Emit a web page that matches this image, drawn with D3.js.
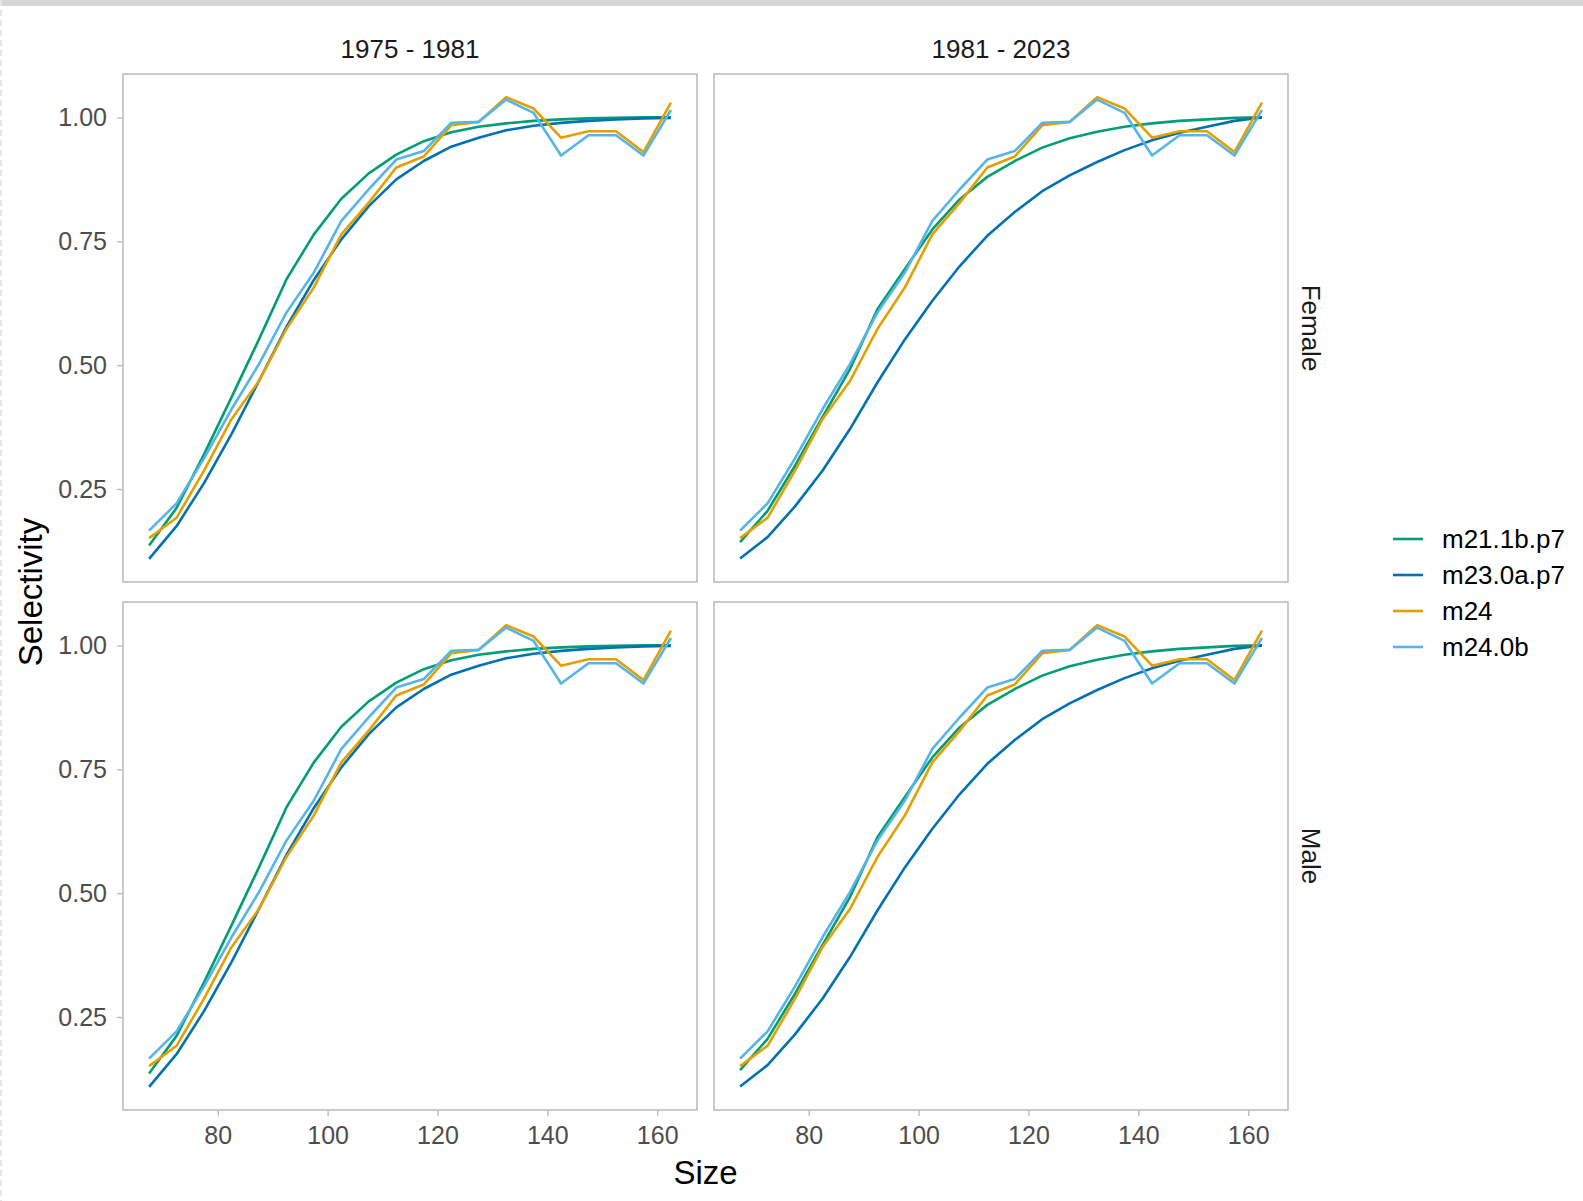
<!DOCTYPE html>
<html>
<head>
<meta charset="utf-8">
<script src="https://cdn.jsdelivr.net/npm/d3@7"></script>
<style>
  body { margin: 0; background: #fff; }
  svg { display: block; font-family: "Liberation Sans", Arial, sans-serif; }
</style>
</head>
<body>
<svg id="chart" width="1583" height="1201"></svg>
<script>
// ---------- DATA ----------
const sizes = [67.5, 72.5, 77.5, 82.5, 87.5, 92.5, 97.5, 102.5, 107.5, 112.5,
               117.5, 122.5, 127.5, 132.5, 137.5, 142.5, 147.5, 152.5, 157.5, 162.5];

const periods = ["1975 - 1981", "1981 - 2023"];
const sexes = ["Female", "Male"];
const seriesNames = ["m21.1b.p7", "m23.0a.p7", "m24", "m24.0b"];
const seriesColors = ["#009E73", "#0072B2", "#E69F00", "#56B4E9"];

// 1975 - 1981
const m21_early = [0.136, 0.212, 0.320, 0.435, 0.552, 0.673, 0.764, 0.836, 0.887, 0.925,
                   0.952, 0.970, 0.981, 0.988, 0.993, 0.996, 0.998, 0.999, 1.000, 1.000];
const m23_early = [0.109, 0.175, 0.262, 0.361, 0.468, 0.577, 0.672, 0.754, 0.821, 0.875,
                   0.912, 0.941, 0.959, 0.974, 0.983, 0.989, 0.993, 0.996, 0.998, 0.999];
// 1981 - 2023
const m21_late  = [0.143, 0.206, 0.297, 0.395, 0.492, 0.613, 0.694, 0.774, 0.835, 0.880,
                   0.912, 0.939, 0.958, 0.971, 0.981, 0.988, 0.993, 0.996, 0.999, 1.000];
const m23_late  = [0.110, 0.153, 0.215, 0.287, 0.371, 0.465, 0.552, 0.630, 0.700, 0.761,
                   0.809, 0.851, 0.883, 0.910, 0.934, 0.954, 0.969, 0.981, 0.993, 1.000];
// same in both periods
const m24       = [0.151, 0.192, 0.287, 0.391, 0.468, 0.573, 0.657, 0.764, 0.828, 0.899,
                   0.921, 0.984, 0.991, 1.041, 1.018, 0.959, 0.972, 0.972, 0.930, 1.030];
const m24_0b    = [0.166, 0.221, 0.312, 0.411, 0.502, 0.606, 0.687, 0.791, 0.855, 0.915,
                   0.932, 0.989, 0.991, 1.036, 1.009, 0.923, 0.964, 0.964, 0.923, 1.015];

const xTicks = [80, 100, 120, 140, 160];
const yTicks = [0.25, 0.50, 0.75, 1.00];

const periodSeries = {
  "1975 - 1981": [m21_early, m23_early, m24, m24_0b],
  "1981 - 2023": [m21_late, m23_late, m24, m24_0b]
};

// ---------- LAYOUT ----------
const svg = d3.select("#chart");
const colX = [123, 714];
const rowY = [74, 602];
const pw = 574, ph = 508;

// top noisy strip and left edge
svg.append("rect").attr("x", 0).attr("y", 0).attr("width", 1583).attr("height", 6)
  .attr("fill", "#d6d6d6");
svg.append("line").attr("x1", 1).attr("x2", 1).attr("y1", 0).attr("y2", 1201)
  .attr("stroke", "#e6e6e6").attr("stroke-width", 2).attr("stroke-dasharray", "6,4");

const allVals = [].concat(m21_early, m23_early, m21_late, m23_late, m24, m24_0b);
const yMin = d3.min(allVals), yMax = d3.max(allVals);
const yPad = (yMax - yMin) * 0.05;
const xMin = d3.min(sizes), xMax = d3.max(sizes);
const xPad = (xMax - xMin) * 0.05;

periods.forEach((per, ci) => {
  sexes.forEach((sex, ri) => {
    const x0 = colX[ci], y0 = rowY[ri];
    const x = d3.scaleLinear().domain([xMin - xPad, xMax + xPad]).range([x0, x0 + pw]);
    const y = d3.scaleLinear().domain([yMin - yPad, yMax + yPad]).range([y0 + ph, y0]);
    const g = svg.append("g");

    g.append("rect").attr("x", x0).attr("y", y0).attr("width", pw).attr("height", ph)
      .attr("fill", "#fff");

    const line = d3.line().x((d, i) => x(sizes[i])).y(d => y(d));
    periodSeries[per].forEach((vals, si) => {
      g.append("path").datum(vals).attr("d", line)
        .attr("fill", "none").attr("stroke", seriesColors[si])
        .attr("stroke-width", 2.6).attr("stroke-linejoin", "round");
    });

    g.append("rect").attr("x", x0).attr("y", y0).attr("width", pw).attr("height", ph)
      .attr("fill", "none").attr("stroke", "#bdbdbd").attr("stroke-width", 1.6);

    if (ci === 0) {
      const ya = g.append("g").attr("transform", `translate(${x0},0)`)
        .call(d3.axisLeft(y).tickValues(yTicks).tickFormat(d3.format(".2f")).tickSize(6).tickPadding(10));
      ya.select(".domain").remove();
      ya.selectAll("line").attr("stroke", "#bdbdbd").attr("stroke-width", 1.4);
      ya.selectAll("text").attr("fill", "#4d4d4d").style("font-size", "25px")
        .style("font-family", "'Liberation Sans', Arial, sans-serif");
    }
    if (ri === 1) {
      const xa = g.append("g").attr("transform", `translate(0,${y0 + ph})`)
        .call(d3.axisBottom(x).tickValues(xTicks).tickSize(6).tickPadding(10));
      xa.select(".domain").remove();
      xa.selectAll("line").attr("stroke", "#bdbdbd").attr("stroke-width", 1.4);
      xa.selectAll("text").attr("fill", "#4d4d4d").style("font-size", "25px")
        .style("font-family", "'Liberation Sans', Arial, sans-serif");
    }
    if (ri === 0) {
      svg.append("text").attr("x", x0 + pw / 2).attr("y", 49)
        .attr("text-anchor", "middle").attr("dominant-baseline", "central")
        .attr("fill", "#1a1a1a").style("font-size", "26px").text(per);
    }
    if (ci === 1) {
      svg.append("text")
        .attr("transform", `translate(1311,${y0 + ph / 2}) rotate(90)`)
        .attr("text-anchor", "middle").attr("dominant-baseline", "central")
        .attr("fill", "#1a1a1a").style("font-size", "26px").text(sex);
    }
  });
});

svg.append("text").attr("x", (colX[0] + colX[1] + pw) / 2).attr("y", 1172)
  .attr("text-anchor", "middle").attr("dominant-baseline", "central")
  .attr("fill", "#000").style("font-size", "33px").text("Size");
svg.append("text")
  .attr("transform", `translate(30,${(rowY[0] + rowY[1] + ph) / 2}) rotate(-90)`)
  .attr("text-anchor", "middle").attr("dominant-baseline", "central")
  .attr("fill", "#000").style("font-size", "33px").text("Selectivity");

const legY = [539, 575, 611, 647];
seriesNames.forEach((name, i) => {
  svg.append("line").attr("x1", 1393).attr("x2", 1423).attr("y1", legY[i]).attr("y2", legY[i])
    .attr("stroke", seriesColors[i]).attr("stroke-width", 2.6);
  svg.append("text").attr("x", 1442).attr("y", legY[i]).attr("dominant-baseline", "central")
    .attr("fill", "#000").style("font-size", "26px").text(name);
});
</script>
</body>
</html>
